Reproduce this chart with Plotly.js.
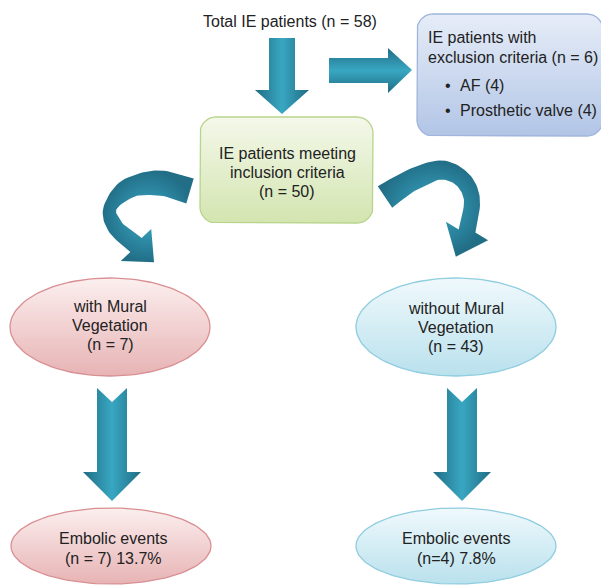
<!DOCTYPE html>
<html><head><meta charset="utf-8">
<script src="https://cdn.plot.ly/plotly-3.0.1.min.js"></script>
<style>html,body{margin:0;padding:0;background:#fff}#chart{width:601px;height:585px}</style>
</head><body><div id="chart"></div>
<script>
// ---- data ----
const totalLabel = "Total IE patients";
const totalN = 58;
const exclusionLabel = ["IE patients with", "exclusion criteria"];
const exclusionN = 6;
const exclusionReasons = ["AF", "Prosthetic valve"];
const exclusionCounts = [4, 4];
const inclusionLabel = ["IE patients meeting", "inclusion criteria"];
const inclusionN = 50;
const groupLabels = [["with Mural", "Vegetation"], ["without Mural", "Vegetation"]];
const groupN = [7, 43];
const eventLabel = "Embolic events";
const eventText = ["(n = 7)", "(n=4)"];
const eventPct = [13.7, 7.8];

// ---- geometry helpers ----
function ellipse(cx, cy, rx, ry) {
  const x = [], y = [];
  for (let i = 0; i <= 120; i++) { const a = 2 * Math.PI * i / 120; x.push(cx + rx * Math.cos(a)); y.push(cy + ry * Math.sin(a)); }
  return {x, y};
}
function roundRect(x0, y0, x1, y1, r) {
  const x = [], y = [];
  const corners = [[x1 - r, y0 + r, -90], [x1 - r, y1 - r, 0], [x0 + r, y1 - r, 90], [x0 + r, y0 + r, 180]];
  corners.forEach(c => { for (let i = 0; i <= 12; i++) { const a = (c[2] + 90 * i / 12) * Math.PI / 180; x.push(c[0] + r * Math.cos(a)); y.push(c[1] + r * Math.sin(a)); } });
  x.push(x[0]); y.push(y[0]);
  return {x, y};
}
function poly(pts) { return {x: pts.map(p => p[0]).concat([pts[0][0]]), y: pts.map(p => p[1]).concat([pts[0][1]])}; }
// ribbon along a Catmull-Rom spline through guide points, with varying width and an arrow head
function ribbonArrow(G, W, headHalf, headLen, headDir) {
  const S = [], SW = [];
  const n = G.length;
  for (let i = 0; i < n - 1; i++) {
    const p0 = G[Math.max(i - 1, 0)], p1 = G[i], p2 = G[i + 1], p3 = G[Math.min(i + 2, n - 1)];
    for (let k = 0; k < 12; k++) {
      const t = k / 12, t2 = t * t, t3 = t2 * t;
      const f = (a, b, c, d) => 0.5 * ((2 * b) + (-a + c) * t + (2 * a - 5 * b + 4 * c - d) * t2 + (-a + 3 * b - 3 * c + d) * t3);
      S.push([f(p0[0], p1[0], p2[0], p3[0]), f(p0[1], p1[1], p2[1], p3[1])]);
      SW.push(W[i] + (W[i + 1] - W[i]) * (3 * t2 - 2 * t3));
    }
  }
  S.push(G[n - 1]); SW.push(W[n - 1]);
  const L = [], R = [];
  for (let i = 0; i < S.length; i++) {
    const a = S[Math.max(i - 1, 0)], b = S[Math.min(i + 1, S.length - 1)];
    const dx = b[0] - a[0], dy = b[1] - a[1], l = Math.hypot(dx, dy);
    const nx = -dy / l, ny = dx / l, w = SW[i] / 2;
    L.push([S[i][0] + nx * w, S[i][1] + ny * w]); R.push([S[i][0] - nx * w, S[i][1] - ny * w]);
  }
  const e = S[S.length - 1];
  let u = headDir;
  const ul = Math.hypot(u[0], u[1]); u = [u[0] / ul, u[1] / ul];
  const nn = [-u[1], u[0]];
  const head = [[e[0] + nn[0] * headHalf, e[1] + nn[1] * headHalf], [e[0] + u[0] * headLen, e[1] + u[1] * headLen], [e[0] - nn[0] * headHalf, e[1] - nn[1] * headHalf]];
  return poly(L.concat(head).concat(R.reverse()));
}
function downArrow(cx, top, notch, headTop, tip, shaftHalf, headHalf) {
  return poly([[cx - shaftHalf, top], [cx, top + notch], [cx + shaftHalf, top], [cx + shaftHalf, headTop], [cx + headHalf, headTop], [cx, tip], [cx - headHalf, headTop], [cx - shaftHalf, headTop]]);
}

const teal = [[0, '#206c84'], [0.5, '#39a7c2'], [1, '#206c84']];
const traces = [];
function addFill(g, line, grad) {
  traces.push({x: g.x, y: g.y, mode: 'lines', fill: 'toself', line: {color: line, width: line === 'rgba(0,0,0,0)' ? 0 : 1.3}, fillgradient: grad, hoverinfo: 'skip', showlegend: false});
}
function vgrad(top, bot, c0, c1) { return {type: 'vertical', start: top, stop: bot, colorscale: [[0, c0], [1, c1]]}; }
function hgrad(l, r) { return {type: 'horizontal', start: l, stop: r, colorscale: teal}; }
const none = 'rgba(0,0,0,0)';
const radialTeal = {type: 'radial', colorscale: [[0, '#3aaac5'], [1, '#226e87']]};

// boxes
addFill(roundRect(417, 14, 603, 136, 16), '#9fb5dc', vgrad(14, 136, '#e6edf8', '#b2c5e6'));
addFill(roundRect(200, 117, 373, 223, 16), '#b8d48c', vgrad(117, 223, '#f4f8ea', '#d3e5b0'));
// ellipses
addFill(ellipse(110, 327, 100, 49), '#d98f92', vgrad(278, 376, '#fcefef', '#e7b3b4'));
addFill(ellipse(456, 327, 100, 49), '#8fcddf', vgrad(278, 376, '#f0f9fc', '#b9e1ed'));
addFill(ellipse(111, 546, 100, 38), '#d98f92', vgrad(508, 584, '#fcefef', '#e7b3b4'));
addFill(ellipse(456, 546, 100, 38), '#8fcddf', vgrad(508, 584, '#f0f9fc', '#b9e1ed'));
// straight arrows
addFill(downArrow(282, 38, 0, 90, 114, 13, 27), none, hgrad(255, 309));
addFill(poly([[329, 58], [388, 58], [388, 48], [412, 70], [388, 93], [388, 83], [329, 83]]), none, {type: 'vertical', start: 48, stop: 93, colorscale: teal});
addFill(downArrow(112, 388, 14, 472, 501, 15, 29), none, hgrad(83, 141));
addFill(downArrow(462, 388, 14, 472, 501, 15, 29), none, hgrad(433, 491));
// curved arrows
addFill(ribbonArrow([[190, 191], [160, 183], [129, 188], [110, 208], [116, 228], [136, 245]], [26, 25, 20, 13, 16, 18], 22, 25, [0.72, 0.69]), none, radialTeal);
addFill(ribbonArrow([[385, 197], [410, 181], [440, 170], [462, 179], [472, 200], [467, 231]], [26, 22, 19, 17, 16, 17], 23, 28, [-0.4, 0.92]), none, radialTeal);

const font = {family: 'Liberation Sans, Arial, sans-serif', size: 16, color: '#222'};
const ann = [];
function txt(x, y, text, align) { ann.push({x, y, text, showarrow: false, xanchor: align || 'center', yanchor: 'middle', font}); }
txt(290, 21, `${totalLabel} (n = ${totalN})`);
txt(426, 37, exclusionLabel[0], 'left');
txt(426, 57, `${exclusionLabel[1]} (n = ${exclusionN})`, 'left');
exclusionReasons.forEach((r, i) => { txt(443, 85 + 25 * i, '•', 'left'); txt(458, 85 + 25 * i, `${r} (${exclusionCounts[i]})`, 'left'); });
txt(287, 153, inclusionLabel[0]); txt(287, 172, inclusionLabel[1]); txt(287, 191, `(n = ${inclusionN})`);
const gx = [110, 456];
groupLabels.forEach((g, i) => { txt(gx[i], 306 + i * 2, g[0]); txt(gx[i], 325 + i * 2, g[1]); txt(gx[i], 344 + i * 2, `(n = ${groupN[i]})`); });
const ex = [113, 456];
eventText.forEach((t, i) => { txt(ex[i], 538, eventLabel); txt(ex[i], 558, `${t} ${eventPct[i]}%`); });

Plotly.newPlot('chart', traces, {
  width: 601, height: 585, margin: {l: 0, r: 0, t: 0, b: 0},
  paper_bgcolor: '#fff', plot_bgcolor: '#fff', showlegend: false, hovermode: false,
  xaxis: {range: [0, 601], visible: false, fixedrange: true},
  yaxis: {range: [585, 0], visible: false, fixedrange: true},
  annotations: ann
}, {staticPlot: true});
</script></body></html>
